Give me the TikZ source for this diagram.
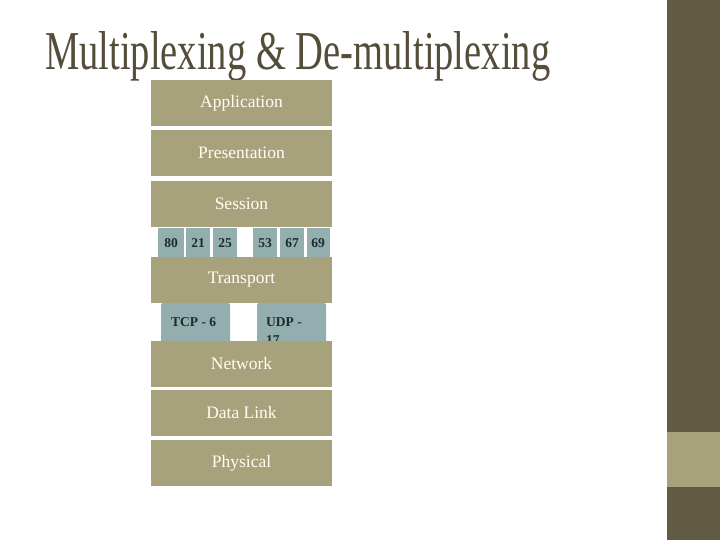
\documentclass[tikz,border=0pt]{standalone}
\usepackage{fontspec}
\setmainfont{Liberation Serif}
\definecolor{tan}{HTML}{A8A27C}
\definecolor{dark}{HTML}{625B43}
\definecolor{port}{HTML}{93AEAE}
\definecolor{ink}{HTML}{1F2A2A}
\begin{document}
\begin{tikzpicture}[x=1pt,y=-1pt,
 layer/.style={text=white!95!yellow,font=\fontsize{17.5}{20}\selectfont},
 porttext/.style={text=ink,font=\bfseries\fontsize{13.5}{16}\selectfont},
 prototext/.style={anchor=north west,inner sep=0pt,text=ink,font=\bfseries\fontsize{13.5}{16}\selectfont}]
\useasboundingbox (0,0) rectangle (720,540);
\fill[white] (0,0) rectangle (720,540);
\fill[dark] (667,0) rectangle (720,540);
\fill[tan] (667,432) rectangle (720,487);
\node[anchor=north west,inner sep=0pt,text=dark!85!black] (title) at (45,31) {\resizebox{505pt}{38pt}{Multiplexing \& De-multiplexing}};
% ports
\foreach \a/\b in {158/184,186/210,213/237,253/277,280/304,307/330}{
 \fill[port] (\a,228) rectangle (\b,257);}
\foreach \n/\x/\t in {p80/171/80,p21/198/21,p25/225/25,p53/265/53,p67/292/67,p69/318/69}{
 \node[porttext] (\n) at (\x,243) {\t};}
% protocol boxes
\fill[port,rounded corners=2pt] (161,303) rectangle (230,345);
\fill[port,rounded corners=2pt] (257,303) rectangle (326,345);
\node[prototext] (tcp) at (171,317) {TCP - 6};
\node[prototext] (udp) at (266,317) {UDP -};
\node[prototext] (udpn) at (266,335) {17};
% layers
\foreach \n/\t/\y in {app/Application/80,pres/Presentation/130,sess/Session/181,trans/Transport/257,net/Network/341,dl/Data Link/390,phy/Physical/440}{
 \fill[tan] (151,\y) rectangle (332,\y+46);
 \node[layer] (\n) at (241.5,\y+23) {\t};}
\end{tikzpicture}
\end{document}
